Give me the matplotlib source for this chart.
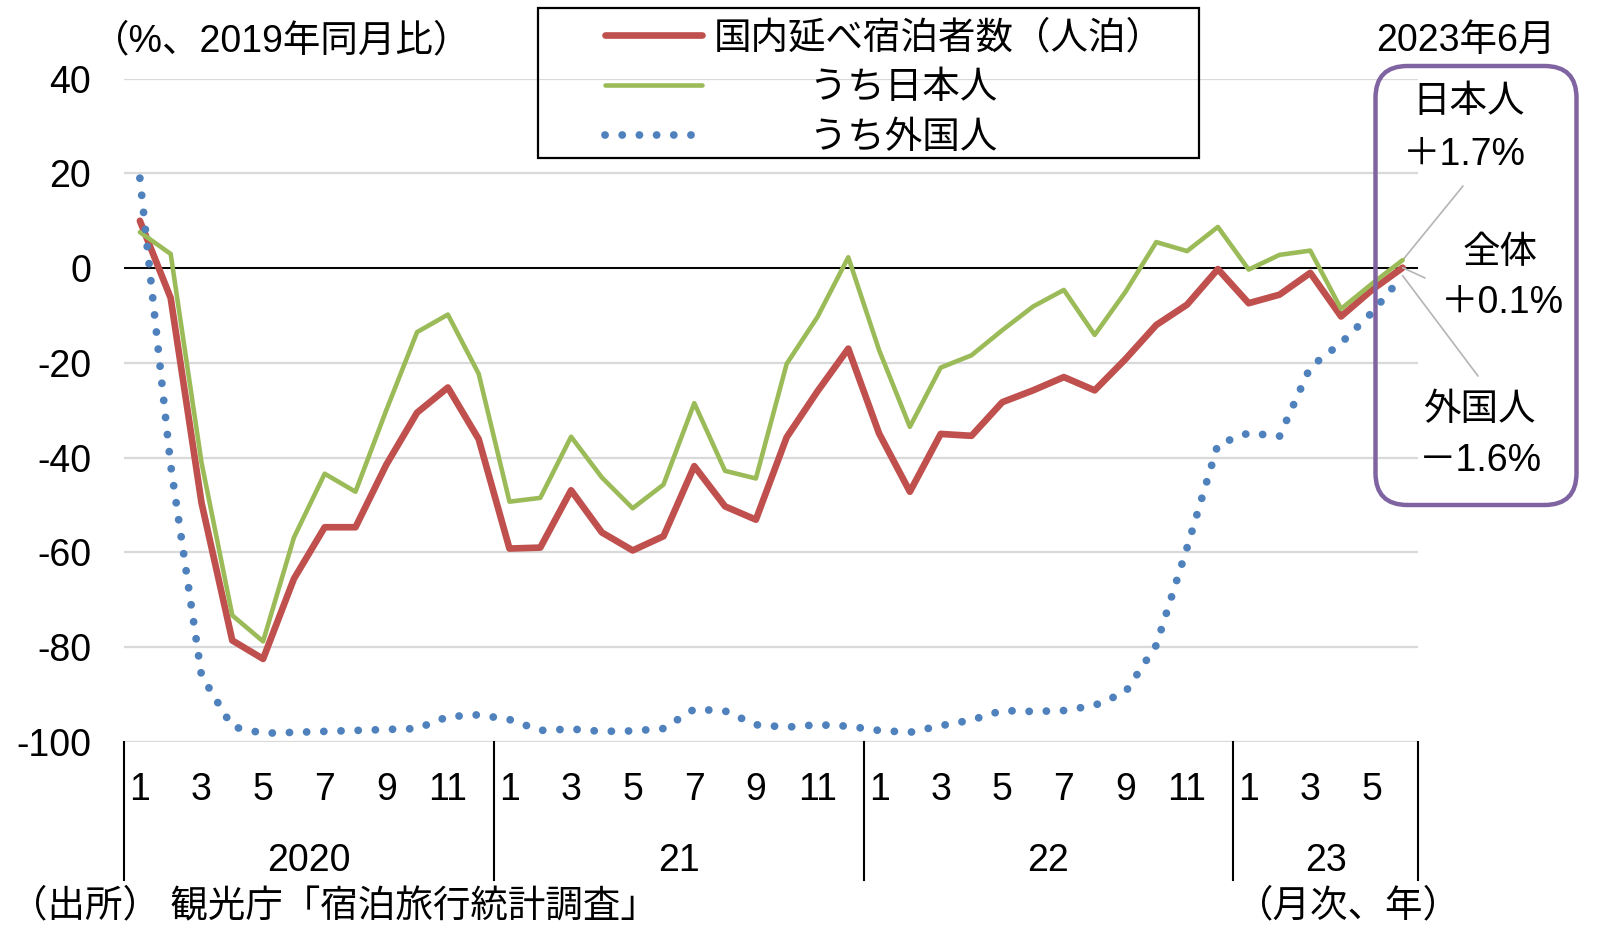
import matplotlib
matplotlib.use('Agg')
import matplotlib.pyplot as plt
import matplotlib.transforms as mtransforms
from matplotlib.patches import FancyBboxPatch, Rectangle
import numpy as np

plt.rcParams['font.family'] = ['Liberation Sans', 'Noto Sans CJK JP']
plt.rcParams['font.size'] = 27

# monthly, Jan 2020 - Jun 2023, % vs same month of 2019
total = [10.0, -6.3, -49.5, -78.6, -82.5, -65.6, -54.7, -54.7, -41.5, -30.5, -25.2, -36.1,
         -59.2, -59.0, -46.9, -55.8, -59.6, -56.6, -41.8, -50.3, -53.1, -35.7, -26.0, -17.0,
         -34.9, -47.2, -35.0, -35.4, -28.3, -25.8, -23.0, -25.8, -19.2, -12.0, -7.7, -0.2,
         -7.4, -5.6, -1.0, -10.2, -4.6, 0.1]
japanese = [7.6, 3.0, -41.0, -73.3, -78.8, -56.9, -43.4, -47.2, -30.0, -13.5, -9.8, -22.3,
            -49.3, -48.5, -35.6, -44.2, -50.7, -45.7, -28.5, -42.8, -44.4, -20.2, -10.3, 2.3,
            -17.3, -33.5, -21.0, -18.4, -13.1, -8.1, -4.6, -14.1, -5.0, 5.5, 3.6, 8.7,
            -0.3, 2.8, 3.7, -8.6, -3.3, 1.7]
foreign = [19.0, -41.6, -86.0, -96.8, -98.2, -98.0, -97.8, -97.6, -97.4, -97.2, -94.7, -94.3,
           -95.3, -97.6, -97.3, -97.8, -97.7, -97.2, -93.1, -93.5, -96.4, -96.9, -96.4, -96.7,
           -97.6, -98.0, -96.6, -95.4, -93.4, -93.6, -93.4, -92.3, -89.5, -79.6, -59.0, -37.2,
           -34.8, -35.5, -20.9, -15.8, -9.4, -1.6]
months = [1, 2, 3, 4, 5, 6, 7, 8, 9, 10, 11, 12] * 3 + [1, 2, 3, 4, 5, 6]
years = ['2020', '21', '22', '23']
year_len = [12, 12, 12, 6]
yticks = [40, 20, 0, -20, -40, -60, -80, -100]
ytick_labels = ['40', '20', '0', '-20', '-40', '-60', '-80', '-100']
series_names = ['国内延べ宿泊者数（人泊）', '\u3000\u3000  うち日本人', '\u3000\u3000  うち外国人']

x = np.arange(len(total))

fig = plt.figure(figsize=(16, 9.48), dpi=100)
ax = fig.add_axes([0.0778, 0.2175, 0.8085, 0.6995])

l1, = ax.plot(x, total, color='#C0504D', lw=4.8, solid_joinstyle='round', solid_capstyle='round', zorder=3)
l2, = ax.plot(x, japanese, color='#9BBB59', lw=3.3, solid_joinstyle='round', solid_capstyle='round', zorder=4)
l3, = ax.plot(x, foreign, color='#4F81BD', lw=5.6, linestyle=(0, (0.01, 2.2)),
              dash_capstyle='round', zorder=5)

ax.set_xlim(-0.5, len(total) - 0.5)
ax.set_ylim(-100, 40)
ax.set_yticks(yticks)
ax.set_yticklabels(ytick_labels)
ax.yaxis.grid(True, color='#D9D9D9', lw=1.6)
ax.set_axisbelow(True)
ax.axhline(0, color='black', lw=1.4, zorder=2)
for s in ax.spines.values():
    s.set_visible(False)
ax.tick_params(axis='y', length=0, pad=24)

odd = [i for i in x if months[i] % 2 == 1]
ax.set_xticks(odd)
ax.set_xticklabels([str(months[i]) for i in odd])
ax.tick_params(axis='x', length=0, pad=22)

trans = mtransforms.blended_transform_factory(ax.transData, ax.transAxes)
start = -0.5
for yr, n in zip(years, year_len):
    ax.plot([start, start], [0, -0.208], transform=trans, color='black', lw=1.5, clip_on=False)
    ax.text(start + n / 2, -0.1795, yr, transform=trans, ha='center', va='center')
    start += n
ax.plot([start, start], [0, -0.208], transform=trans, color='black', lw=1.5, clip_on=False)

# legend
leg = ax.legend([l1, l2, l3], series_names, loc='upper left', bbox_to_anchor=(0.378, 0.979),
                bbox_transform=fig.transFigure, frameon=False, borderpad=0, borderaxespad=0,
                handlelength=2.6, handletextpad=0.3, labelspacing=0.38, fontsize=27)
fig.add_artist(Rectangle((0.33625, 0.8333), 0.4131, 0.1582, transform=fig.transFigure,
                         fill=False, ec='black', lw=1.6))

fig.text(0.0575, 0.9567, '（%、2019年同月比）', ha='left', va='center')
fig.text(0.9725, 0.9567, '2023年6月', ha='right', va='center')
fig.text(0.006, 1 - 906 / 948, '（出所） 観光庁「宿泊旅行統計調査」', ha='left', va='center')
fig.text(0.9134, 1 - 906 / 948, '（月次、年）', ha='right', va='center')

# callout box
fig.add_artist(FancyBboxPatch((13.755, 4.43), 2.01, 4.39, boxstyle='round,pad=0,rounding_size=0.32',
                              transform=fig.dpi_scale_trans, fill=False, ec='#8064A2', lw=3.2))
H = 948
fig.text(1469 / 1600, 1 - 102 / H, '日本人', ha='center', va='center')
fig.text(1464 / 1600, 1 - 155 / H, '＋1.7%', ha='center', va='center')
fig.text(1500 / 1600, 1 - 253 / H, '全体', ha='center', va='center')
fig.text(1502 / 1600, 1 - 303 / H, '＋0.1%', ha='center', va='center')
fig.text(1480 / 1600, 1 - 410 / H, '外国人', ha='center', va='center')
fig.text(1480 / 1600, 1 - 461 / H, '－1.6%', ha='center', va='center')

lead = dict(arrowstyle='-', color='#B4B4B4', lw=1.2, shrinkA=0, shrinkB=0)
ax.annotate('', xy=(x[-1], japanese[-1]), xytext=(1463, H - 186), textcoords='figure pixels', arrowprops=lead)
ax.annotate('', xy=(x[-1], total[-1]), xytext=(1425, H - 278), textcoords='figure pixels', arrowprops=lead)
ax.annotate('', xy=(x[-1], foreign[-1]), xytext=(1478, H - 376), textcoords='figure pixels', arrowprops=lead)

fig.savefig('out.png', dpi=100)
